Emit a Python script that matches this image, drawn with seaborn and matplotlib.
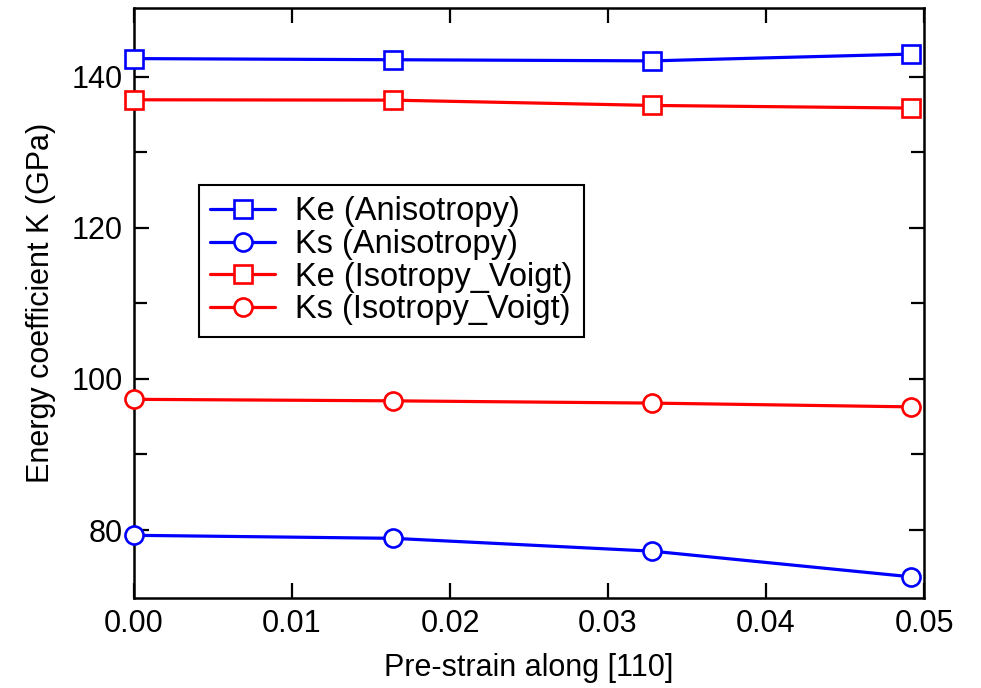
import matplotlib
matplotlib.use("Agg")
import matplotlib.pyplot as plt
from matplotlib.ticker import MultipleLocator
import seaborn as sns
import pandas as pd

# Pre-strain values along [110]
strain = [0.0, 0.0164, 0.0328, 0.0492]

# Energy coefficients (GPa)
ke_aniso = [142.4, 142.25, 142.1, 143.0]
ks_aniso = [79.3, 78.9, 77.2, 73.8]
ke_voigt = [136.95, 136.9, 136.2, 135.85]
ks_voigt = [97.3, 97.1, 96.8, 96.3]

series_names = ["Ke (Anisotropy)", "Ks (Anisotropy)",
                "Ke (Isotropy_Voigt)", "Ks (Isotropy_Voigt)"]
series_values = [ke_aniso, ks_aniso, ke_voigt, ks_voigt]
series_colors = ["#0000ff", "#0000ff", "#ff0000", "#ff0000"]
series_markers = ["s", "o", "s", "o"]

x_ticks = [0.00, 0.01, 0.02, 0.03, 0.04, 0.05]
y_ticks = [80, 100, 120, 140]

sns.set_theme(style="ticks")
plt.rcParams["font.family"] = ["Liberation Sans", "DejaVu Sans"]
plt.rcParams["text.color"] = "black"
plt.rcParams["axes.labelcolor"] = "black"
plt.rcParams["xtick.color"] = "black"
plt.rcParams["ytick.color"] = "black"

fig = plt.figure(figsize=(9.81, 6.88), dpi=100)
ax = fig.add_axes([0.1366, 0.1308, 0.8053, 0.8576])

for name, vals, col, mk in zip(series_names, series_values, series_colors, series_markers):
    df = pd.DataFrame({"strain": strain, "K": vals})
    sns.lineplot(data=df, x="strain", y="K", ax=ax, color=col, linewidth=2.3,
                 marker=mk, markersize=13, markerfacecolor="white",
                 markeredgecolor=col, markeredgewidth=1.9, label=name,
                 clip_on=False, zorder=5)

ax.set_xlim(0.0, 0.05)
ax.set_ylim(71.0, 149.1)
ax.set_xticks(x_ticks)
ax.set_xticklabels([f"{t:.2f}" for t in x_ticks])
ax.set_yticks(y_ticks)
ax.yaxis.set_minor_locator(MultipleLocator(10))

ax.set_xlabel("Pre-strain along [110]", fontsize=22, labelpad=10)
ax.set_ylabel("Energy coefficient K (GPa)", fontsize=22, labelpad=11)

for sp in ax.spines.values():
    sp.set_linewidth(1.8)
    sp.set_color("black")
    sp.set_zorder(4)

ax.tick_params(axis="both", which="major", direction="in", length=11, width=1.6,
               labelsize=22, top=True, right=True, color="black",
               labelcolor="black", pad=8)
ax.tick_params(axis="y", which="minor", direction="in", length=9.5, width=1.6,
               left=True, right=True, color="black")
ax.tick_params(axis="x", which="minor", bottom=False, top=False)

leg = ax.legend(loc="upper left", bbox_to_anchor=(0.082, 0.70), borderaxespad=0,
                fontsize=23.5, frameon=True, fancybox=False, framealpha=1,
                edgecolor="black", handlelength=2.0, handletextpad=0.6,
                labelspacing=0.05, borderpad=0.35)
leg.get_frame().set_linewidth(1.5)

fig.savefig("out.png", dpi=100)
